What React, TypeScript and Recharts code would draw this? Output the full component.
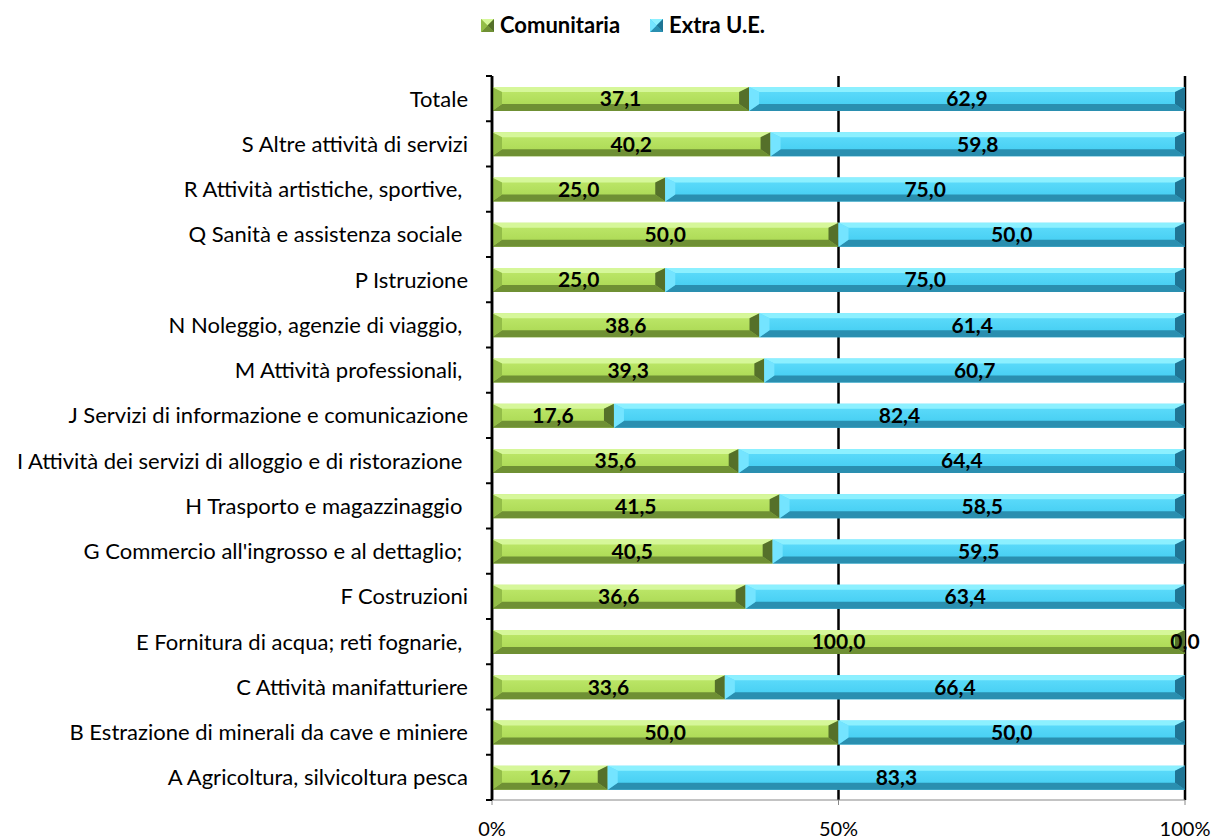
import { BarChart, Bar, XAxis, YAxis, CartesianGrid, LabelList } from "recharts";

// categories, top to bottom as drawn
const categories = [
  "Totale",
  "S Altre attività di servizi",
  "R Attività artistiche, sportive, ",
  "Q Sanità e assistenza sociale ",
  "P Istruzione",
  "N Noleggio, agenzie di viaggio, ",
  "M Attività professionali, ",
  "J Servizi di informazione e comunicazione",
  "I Attività dei servizi di alloggio e di ristorazione ",
  "H Trasporto e magazzinaggio ",
  "G Commercio all'ingrosso e al dettaglio; ",
  "F Costruzioni",
  "E Fornitura di acqua; reti fognarie, ",
  "C Attività manifatturiere",
  "B Estrazione di minerali da cave e miniere",
  "A Agricoltura, silvicoltura pesca",
];

const comunitaria = [37.1, 40.2, 25.0, 50.0, 25.0, 38.6, 39.3, 17.6, 35.6, 41.5, 40.5, 36.6, 100.0, 33.6, 50.0, 16.7];
const extraUE = [62.9, 59.8, 75.0, 50.0, 75.0, 61.4, 60.7, 82.4, 64.4, 58.5, 59.5, 63.4, 0.0, 66.4, 50.0, 83.3];

const xTicks = [0, 50, 100];

const data = categories.map((name, i) => ({
  name,
  comunitaria: comunitaria[i],
  extra: extraUE[i],
}));

const FONT = "Lato, 'Open Sans', sans-serif";
const WIDTH = 1215;
const HEIGHT = 839;
const TOP = 76;
const BOTTOM = 39;
const BAND = (HEIGHT - TOP - BOTTOM) / categories.length;

type Palette = { top: string; mid: string; midLight: string; bottom: string; left: string; right: string };

const GREEN: Palette = {
  top: "#d6f79a",
  mid: "#a8d650",
  midLight: "#bfe96c",
  bottom: "#6f9034",
  left: "#93bd48",
  right: "#55702a",
};
const BLUE: Palette = {
  top: "#8cf0ff",
  mid: "#40cbf0",
  midLight: "#60ddfc",
  bottom: "#2a8fb0",
  left: "#74e4ff",
  right: "#1f7595",
};

// bar segment with a bevelled look
const bevelShape = (pal: Palette, id: string) => (props: any) => {
  const { x, y, width: w, height: h } = props;
  if (!w || w <= 0) return <g />;
  const b = Math.min(10, w / 2);
  const t = 5;
  const bb = 7;
  return (
    <g>
      <rect x={x} y={y} width={w} height={h} fill={`url(#${id})`} />
      <polygon points={`${x},${y} ${x + w},${y} ${x + w - b},${y + t} ${x + b},${y + t}`} fill={pal.top} />
      <polygon
        points={`${x},${y + h} ${x + w},${y + h} ${x + w - b},${y + h - bb} ${x + b},${y + h - bb}`}
        fill={pal.bottom}
      />
      <polygon points={`${x},${y} ${x + b},${y + t} ${x + b},${y + h - bb} ${x},${y + h}`} fill={pal.left} />
      <polygon
        points={`${x + w},${y} ${x + w - b},${y + t} ${x + w - b},${y + h - bb} ${x + w},${y + h}`}
        fill={pal.right}
      />
    </g>
  );
};

const CategoryTick = (props: any) => {
  const { x, y, payload, index } = props;
  const ax = x + 8; // axis line position
  return (
    <g>
      <text
        x={ax - 24}
        y={y}
        dy="0.36em"
        textAnchor="end"
        fontFamily={FONT}
        fontSize={22}
        fill="#000"
        style={{ whiteSpace: "pre" }}
      >
        {payload.value}
      </text>
      {index === 0 && <line x1={ax - 6} x2={ax} y1={y - BAND / 2} y2={y - BAND / 2} stroke="#000" strokeWidth={2} />}
      <line x1={ax - 6} x2={ax} y1={y + BAND / 2} y2={y + BAND / 2} stroke="#000" strokeWidth={2} />
    </g>
  );
};

const LegendIcon = ({ pal }: { pal: Palette }) => (
  <svg width={13} height={13} style={{ marginRight: 6 }}>
    <rect x={0} y={0} width={13} height={13} fill={pal.mid} />
    <polygon points="0,0 13,0 6.5,6.5" fill={pal.top} />
    <polygon points="0,13 13,13 6.5,6.5" fill={pal.bottom} />
    <polygon points="0,0 0,13 6.5,6.5" fill={pal.left} />
    <polygon points="13,0 13,13 6.5,6.5" fill={pal.right} />
  </svg>
);

const ChartLegend = () => (
  <div
    style={{
      position: "absolute",
      top: 12,
      left: 481,
      display: "flex",
      fontFamily: FONT,
      fontWeight: 700,
      fontSize: 22,
      lineHeight: "26px",
      gap: 30,
    }}
  >
    <span style={{ display: "flex", alignItems: "center" }}>
      <LegendIcon pal={GREEN} />
      Comunitaria
    </span>
    <span style={{ display: "flex", alignItems: "center" }}>
      <LegendIcon pal={BLUE} />
      Extra U.E.
    </span>
  </div>
);

const fmt = (v: any) => Number(v).toFixed(1).replace(".", ",");

export default function App() {
  return (
    <div style={{ position: "absolute", left: 0, top: 0, width: WIDTH, height: HEIGHT, background: "#fff" }}>
      <ChartLegend />
      <BarChart
        width={WIDTH}
        height={HEIGHT}
        data={data}
        layout="vertical"
        margin={{ top: TOP, right: 30, bottom: 0, left: 0 }}
        barSize={24}
      >
        <defs>
          <linearGradient id="gGreen" x1="0" y1="0" x2="0" y2="1">
            <stop offset="0%" stopColor={GREEN.midLight} />
            <stop offset="100%" stopColor={GREEN.mid} />
          </linearGradient>
          <linearGradient id="gBlue" x1="0" y1="0" x2="0" y2="1">
            <stop offset="0%" stopColor={BLUE.midLight} />
            <stop offset="100%" stopColor={BLUE.mid} />
          </linearGradient>
        </defs>
        <CartesianGrid horizontal={false} stroke="#000" strokeWidth={2.5} />
        <XAxis
          type="number"
          domain={[0, 100]}
          ticks={xTicks}
          tickFormatter={(v) => `${v}%`}
          height={BOTTOM}
          axisLine={{ stroke: "#888", strokeWidth: 1 }}
          tickLine={{ stroke: "#888" }}
          tickSize={5}
          tickMargin={17}
          tick={{ fill: "#000", fontFamily: FONT, fontSize: 20 }}
          interval={0}
        />
        <YAxis
          type="category"
          dataKey="name"
          width={492}
          axisLine={{ stroke: "#000", strokeWidth: 2.5 }}
          tickLine={false}
          tick={<CategoryTick />}
          interval={0}
        />
        <Bar dataKey="comunitaria" name="Comunitaria" stackId="a" isAnimationActive={false} shape={bevelShape(GREEN, "gGreen")}>
          <LabelList
            dataKey="comunitaria"
            position="center"
            formatter={fmt}
            fill="#000"
            fontFamily={FONT}
            fontWeight={700}
            fontSize={21}
          />
        </Bar>
        <Bar dataKey="extra" name="Extra U.E." stackId="a" isAnimationActive={false} shape={bevelShape(BLUE, "gBlue")}>
          <LabelList
            dataKey="extra"
            position="center"
            formatter={fmt}
            fill="#000"
            fontFamily={FONT}
            fontWeight={700}
            fontSize={21}
          />
        </Bar>
      </BarChart>
    </div>
  );
}
